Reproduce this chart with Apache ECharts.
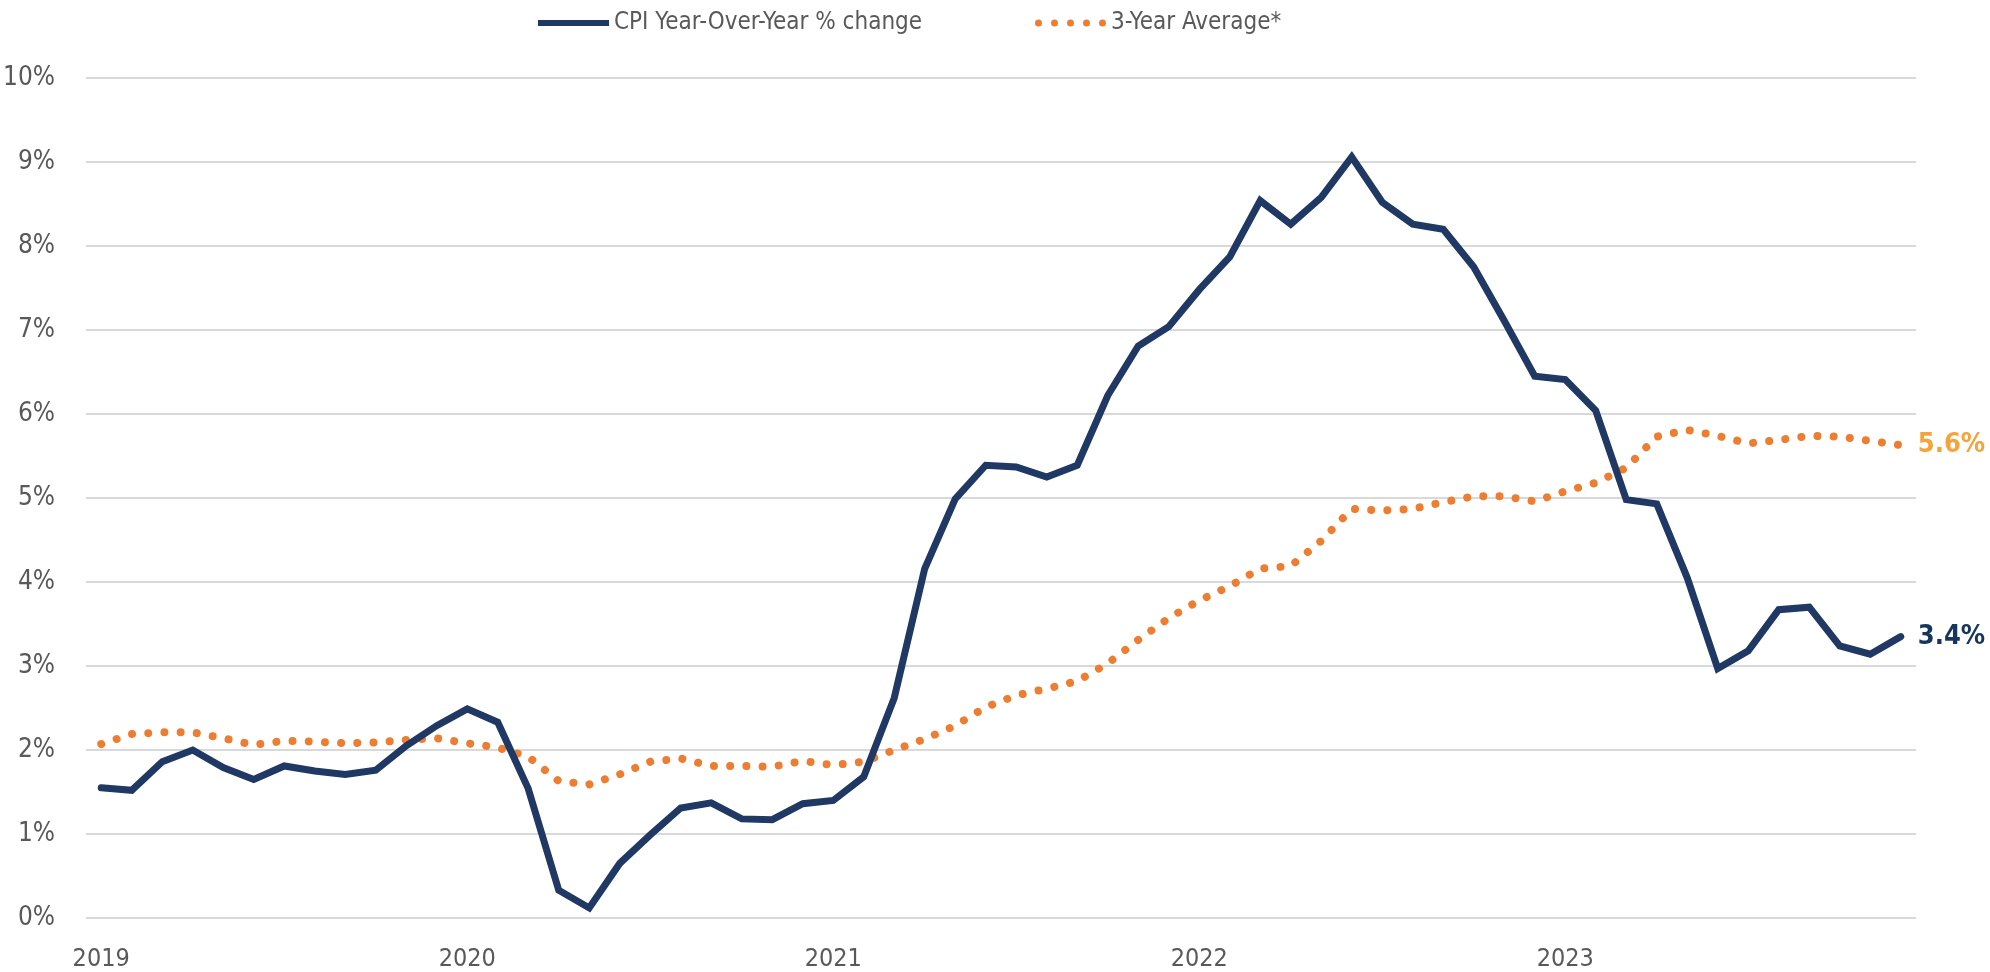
<!DOCTYPE html>
<html>
<head>
<meta charset="utf-8">
<script src="https://cdn.jsdelivr.net/npm/echarts@6/dist/echarts.min.js"></script>
<style>
  html, body { margin: 0; padding: 0; background: #ffffff; }
  #chart { width: 1990px; height: 972px; }
</style>
</head>
<body>
<div id="chart"></div>
<script>
const categories = [
  '2019-01','2019-02','2019-03','2019-04','2019-05','2019-06','2019-07','2019-08','2019-09','2019-10','2019-11','2019-12',
  '2020-01','2020-02','2020-03','2020-04','2020-05','2020-06','2020-07','2020-08','2020-09','2020-10','2020-11','2020-12',
  '2021-01','2021-02','2021-03','2021-04','2021-05','2021-06','2021-07','2021-08','2021-09','2021-10','2021-11','2021-12',
  '2022-01','2022-02','2022-03','2022-04','2022-05','2022-06','2022-07','2022-08','2022-09','2022-10','2022-11','2022-12',
  '2023-01','2023-02','2023-03','2023-04','2023-05','2023-06','2023-07','2023-08','2023-09','2023-10','2023-11','2023-12'
];

const cpiYoY = [
  1.55, 1.52, 1.86, 2.00, 1.79, 1.65, 1.81, 1.75, 1.71, 1.76, 2.05, 2.29,
  2.49, 2.33, 1.54, 0.33, 0.12, 0.65, 0.99, 1.31, 1.37, 1.18, 1.17, 1.36,
  1.40, 1.68, 2.62, 4.16, 4.99, 5.39, 5.37, 5.25, 5.39, 6.22, 6.81, 7.04,
  7.48, 7.87, 8.54, 8.26, 8.58, 9.06, 8.52, 8.26, 8.20, 7.75, 7.11, 6.45,
  6.41, 6.04, 4.98, 4.93, 4.05, 2.97, 3.18, 3.67, 3.70, 3.24, 3.14, 3.35
];

const threeYearAvg = [
  2.07, 2.19, 2.21, 2.21, 2.14, 2.06, 2.11, 2.10, 2.08, 2.09, 2.12, 2.14,
  2.08, 2.03, 1.92, 1.63, 1.59, 1.71, 1.86, 1.90, 1.81, 1.81, 1.80, 1.87,
  1.82, 1.86, 2.00, 2.13, 2.29, 2.51, 2.65, 2.73, 2.82, 3.03, 3.31, 3.57,
  3.78, 3.95, 4.16, 4.19, 4.49, 4.87, 4.85, 4.87, 4.95, 5.02, 5.02, 4.96,
  5.08, 5.18, 5.36, 5.73, 5.81, 5.74, 5.65, 5.69, 5.74, 5.73, 5.68, 5.63
];

const yTicks = { min: 0, max: 10, interval: 1 };
const seriesNames = ['CPI Year-Over-Year % change', '3-Year Average*'];

const FONT = "'DejaVu Sans Condensed', 'Liberation Sans Narrow', sans-serif";
const NAVY = '#203864';
const ORANGE = '#ED7D31';

const ICON_SOLID = 'path://M0,0 H71 V6 H0 Z';
const ICON_DOTS = 'path://' +
  'M0,3.5 a3.5,3.5 0 1,0 7,0 a3.5,3.5 0 1,0 -7,0 Z ' +
  'M16,3.5 a3.5,3.5 0 1,0 7,0 a3.5,3.5 0 1,0 -7,0 Z ' +
  'M32,3.5 a3.5,3.5 0 1,0 7,0 a3.5,3.5 0 1,0 -7,0 Z ' +
  'M48,3.5 a3.5,3.5 0 1,0 7,0 a3.5,3.5 0 1,0 -7,0 Z ' +
  'M64,3.5 a3.5,3.5 0 1,0 7,0 a3.5,3.5 0 1,0 -7,0 Z';

const legendBase = {
  top: 6,
  itemGap: 0,
  textStyle: { fontFamily: FONT, fontSize: 24, color: '#595959' }
};

const chart = echarts.init(document.getElementById('chart'), null, { renderer: 'canvas' });
chart.setOption({
  animation: false,
  backgroundColor: '#ffffff',
  textStyle: { fontFamily: FONT },
  legend: [
    Object.assign({}, legendBase, { left: 533, itemWidth: 71, itemHeight: 6, data: [{ name: seriesNames[0], icon: ICON_SOLID }] }),
    Object.assign({}, legendBase, { left: 1030, itemWidth: 71, itemHeight: 7, data: [{ name: seriesNames[1], icon: ICON_DOTS }] })
  ],
  grid: { left: 77, right: 74, top: 78, bottom: 54, containLabel: false },
  xAxis: {
    type: 'category',
    data: categories,
    boundaryGap: true,
    axisLine: { show: false },
    axisTick: { show: false },
    axisLabel: {
      interval: 11,
      margin: 29,
      fontFamily: FONT,
      fontSize: 25,
      color: '#595959',
      formatter: v => v.slice(0, 4)
    },
    splitLine: { show: false }
  },
  yAxis: {
    type: 'value',
    min: yTicks.min,
    max: yTicks.max,
    interval: yTicks.interval,
    axisLine: { show: false },
    axisTick: { show: false },
    axisLabel: {
      margin: 31,
      fontFamily: FONT,
      fontSize: 26,
      color: '#595959',
      formatter: v => v + '%'
    },
    splitLine: { lineStyle: { color: '#D9D9D9', width: 2 } }
  },
  series: [
    {
      name: seriesNames[0],
      type: 'line',
      data: cpiYoY,
      symbol: 'none',
      smooth: false,
      z: 3,
      lineStyle: { color: NAVY, width: 7, join: 'miter', cap: 'round' },
      itemStyle: { color: NAVY },
      endLabel: {
        show: true,
        distance: 17,
        fontFamily: FONT,
        fontWeight: 'bold',
        fontSize: 27,
        color: '#17365D',
        formatter: p => p.value.toFixed(1) + '%'
      }
    },
    {
      name: seriesNames[1],
      type: 'line',
      data: threeYearAvg,
      symbol: 'none',
      smooth: false,
      z: 2,
      lineStyle: { color: ORANGE, width: 8, type: [0.01, 16.2], cap: 'round' },
      itemStyle: { color: ORANGE },
      endLabel: {
        show: true,
        distance: 17,
        fontFamily: FONT,
        fontWeight: 'bold',
        fontSize: 27,
        color: '#F5A33B',
        formatter: p => p.value.toFixed(1) + '%'
      }
    }
  ]
});
</script>
</body>
</html>
